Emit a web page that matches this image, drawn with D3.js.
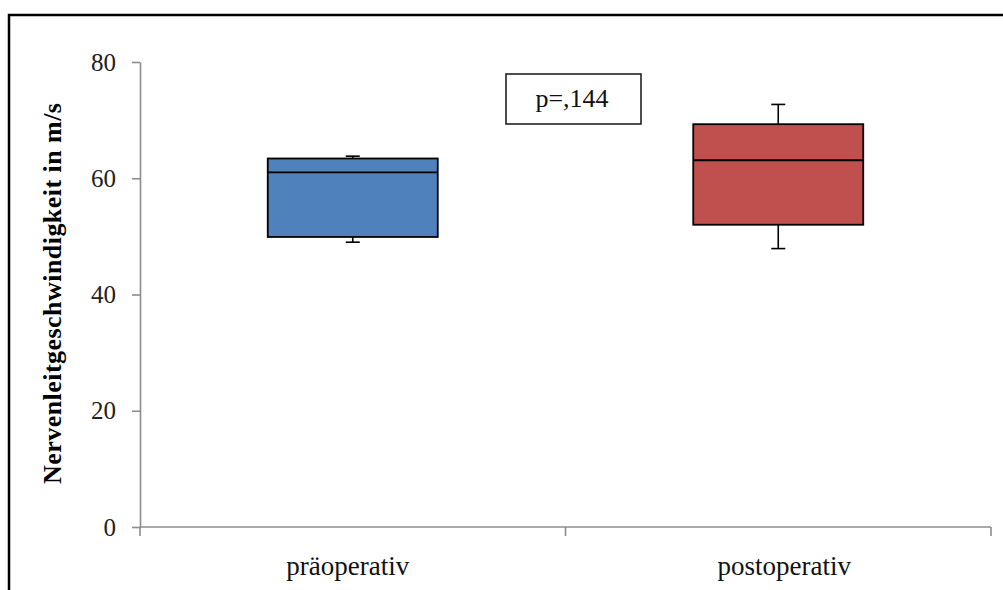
<!DOCTYPE html>
<html>
<head>
<meta charset="utf-8">
<script src="https://cdn.jsdelivr.net/npm/d3@7"></script>
<style>
  body { margin: 0; background: #fff; }
  svg { display: block; }
  text { font-family: "Liberation Serif", "Times New Roman", serif; }
</style>
</head>
<body>
<svg id="chart"></svg>
<script>
// box plot data
const groups = ["präoperativ", "postoperativ"];
const whiskerLow = [49.0, 47.9];
const q1 = [49.9, 52.0];
const median = [61.0, 63.1];
const q3 = [63.4, 69.3];
const whiskerHigh = [63.8, 72.7];
const boxColors = ["#4f81bd", "#c0504d"];
const yTicks = [0, 20, 40, 60, 80];
const pLabel = "p=,144";
const yLabel = "Nervenleitgeschwindigkeit in m/s";

const width = 1003, height = 590;
const margin = { top: 62, right: 12, bottom: 63, left: 140 };

const svg = d3.select("#chart").attr("width", width).attr("height", height);

// outer frame (cut off at right and bottom)
svg.append("path")
  .attr("d", `M9,${height + 5} V15 H${width + 5}`)
  .attr("fill", "none")
  .attr("stroke", "#000")
  .attr("stroke-width", 2.5);

const x = d3.scaleBand()
  .domain(groups)
  .range([margin.left, width - margin.right]);

const y = d3.scaleLinear()
  .domain([0, 80])
  .range([height - margin.bottom, margin.top]);

const axisColor = "#8c8c8c";

// y axis
const yAxis = svg.append("g")
  .attr("transform", `translate(${margin.left},0)`)
  .call(d3.axisLeft(y).tickValues(yTicks).tickSize(8).tickPadding(16).tickSizeOuter(0));
yAxis.select(".domain").attr("stroke", axisColor).attr("stroke-width", 1.6);
yAxis.selectAll(".tick line").attr("stroke", axisColor).attr("stroke-width", 1.6);
yAxis.selectAll(".tick text")
  .attr("font-size", 25)
  .attr("fill", "#222")
  .attr("font-family", "Liberation Serif, serif");

// x axis
const xBase = y(0);
const xAxisG = svg.append("g").attr("transform", `translate(0,${xBase})`);
xAxisG.append("line")
  .attr("x1", x.range()[0]).attr("x2", x.range()[1])
  .attr("stroke", axisColor).attr("stroke-width", 1.6);
const xTickPos = [x(groups[0]), x(groups[1]), x(groups[1]) + x.bandwidth()];
xAxisG.selectAll(".xtick")
  .data(xTickPos)
  .join("line")
  .attr("class", "xtick")
  .attr("x1", d => d).attr("x2", d => d)
  .attr("y1", 0).attr("y2", 9)
  .attr("stroke", axisColor).attr("stroke-width", 1.6);
xAxisG.selectAll(".xlabel")
  .data(groups)
  .join("text")
  .attr("class", "xlabel")
  .attr("x", (d, i) => x(d) + x.bandwidth() / 2 + (i === 0 ? -5 : 6))
  .attr("y", 48)
  .attr("text-anchor", "middle")
  .attr("font-size", 27)
  .attr("fill", "#111")
  .text(d => d);

// y label
svg.append("text")
  .attr("transform", "translate(61,293.5) rotate(-90)")
  .attr("text-anchor", "middle")
  .attr("font-size", 26)
  .attr("font-weight", "bold")
  .attr("fill", "#000")
  .attr("textLength", 381)
  .attr("lengthAdjust", "spacing")
  .text(yLabel);

// boxes
const boxW = 170, capW = 14;
const boxes = svg.append("g");
groups.forEach((g, i) => {
  const cx = x(g) + x.bandwidth() / 2;
  const gg = boxes.append("g");
  // whiskers
  gg.append("line")
    .attr("x1", cx).attr("x2", cx)
    .attr("y1", y(whiskerHigh[i])).attr("y2", y(q3[i]))
    .attr("stroke", "#000").attr("stroke-width", 1.6);
  gg.append("line")
    .attr("x1", cx).attr("x2", cx)
    .attr("y1", y(q1[i])).attr("y2", y(whiskerLow[i]))
    .attr("stroke", "#000").attr("stroke-width", 1.6);
  [whiskerHigh[i], whiskerLow[i]].forEach(v => {
    gg.append("line")
      .attr("x1", cx - capW / 2).attr("x2", cx + capW / 2)
      .attr("y1", y(v)).attr("y2", y(v))
      .attr("stroke", "#000").attr("stroke-width", 1.6);
  });
  gg.append("rect")
    .attr("x", cx - boxW / 2)
    .attr("y", y(q3[i]))
    .attr("width", boxW)
    .attr("height", y(q1[i]) - y(q3[i]))
    .attr("fill", boxColors[i])
    .attr("stroke", "#000")
    .attr("stroke-width", 1.8);
  gg.append("line")
    .attr("x1", cx - boxW / 2).attr("x2", cx + boxW / 2)
    .attr("y1", y(median[i])).attr("y2", y(median[i]))
    .attr("stroke", "#000").attr("stroke-width", 1.8);
});

// p value box
const pg = svg.append("g");
pg.append("rect")
  .attr("x", 506).attr("y", 74)
  .attr("width", 135).attr("height", 50)
  .attr("fill", "#fff")
  .attr("stroke", "#222")
  .attr("stroke-width", 1.6);
pg.append("text")
  .attr("x", 572).attr("y", 107)
  .attr("text-anchor", "middle")
  .attr("font-size", 26)
  .attr("fill", "#111")
  .text(pLabel);
</script>
</body>
</html>
